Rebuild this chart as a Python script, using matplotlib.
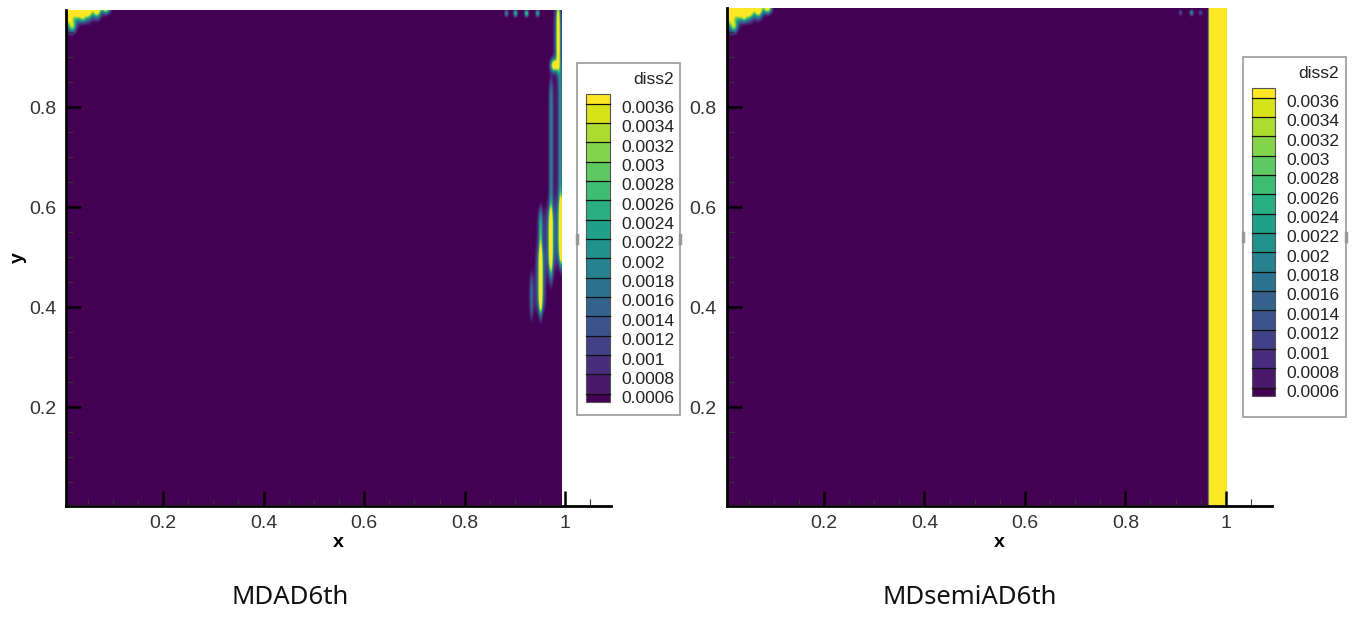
#!/usr/bin/env python3
# -*- coding: utf-8 -*-

import numpy as np
import matplotlib
matplotlib.use("Agg")
from matplotlib import pyplot as plt
from matplotlib.patches import Rectangle
from matplotlib.ticker import FixedLocator, MultipleLocator

plt.rcParams["font.family"] = ["Liberation Sans", "DejaVu Sans"]

# contour levels of diss2 (legend)
levels = [0.0006, 0.0008, 0.001, 0.0012, 0.0014, 0.0016, 0.0018, 0.002,
          0.0022, 0.0024, 0.0026, 0.0028, 0.003, 0.0032, 0.0034, 0.0036]
level_labels = ["0.0006", "0.0008", "0.001", "0.0012", "0.0014", "0.0016",
                "0.0018", "0.002", "0.0022", "0.0024", "0.0026", "0.0028",
                "0.003", "0.0032", "0.0034", "0.0036"]
xticks = [0.2, 0.4, 0.6, 0.8, 1.0]
xtick_labels = ["0.2", "0.4", "0.6", "0.8", "1"]
yticks = [0.2, 0.4, 0.6, 0.8]
ytick_labels = ["0.2", "0.4", "0.6", "0.8"]
titles = ["MDAD6th", "MDsemiAD6th"]
background = 0.0003

# blobs: x, y, sx, sy, amplitude
corner_blobs = [
    (0.012, 0.995, 0.010, 0.030, 0.0060),
    (0.030, 0.998, 0.009, 0.022, 0.0060),
    (0.050, 0.997, 0.009, 0.020, 0.0058),
    (0.068, 0.998, 0.008, 0.018, 0.0055),
    (0.086, 0.999, 0.008, 0.012, 0.0045),
    (0.020, 0.960, 0.007, 0.012, 0.0022),
    (0.040, 0.978, 0.006, 0.010, 0.0020),
]
left_dots = [
    (0.883, 0.986, 0.004, 0.007, 0.0016),
    (0.901, 0.986, 0.004, 0.007, 0.0024),
    (0.923, 0.986, 0.004, 0.007, 0.0026),
    (0.945, 0.986, 0.004, 0.007, 0.0022),
    (0.978, 0.882, 0.007, 0.012, 0.0040),
]
right_dots = [
    (0.908, 0.987, 0.004, 0.006, 0.0010),
    (0.930, 0.987, 0.004, 0.006, 0.0017),
    (0.948, 0.987, 0.004, 0.006, 0.0010),
]
# vertical streaks near x=1 (left panel): x, y_low, y_high, width, amplitude
left_streaks = [
    (0.986, 0.880, 0.997, 0.0032, 0.0040),
    (0.990, 0.500, 0.880, 0.0035, 0.0014),
    (0.992, 0.490, 0.610, 0.0035, 0.0040),
    (0.972, 0.450, 0.850, 0.0035, 0.0012),
    (0.971, 0.480, 0.590, 0.0035, 0.0036),
    (0.951, 0.390, 0.590, 0.0035, 0.0018),
    (0.951, 0.400, 0.510, 0.0030, 0.0038),
    (0.933, 0.380, 0.460, 0.0035, 0.0010),
]
# yellow band on the right edge (right panel): x_low, x_high, amplitude
right_band = (0.965, 1.0, 0.008)


def field(xmin, xmax, ymin, ymax, blobs, streaks, band):
    x = np.linspace(xmin, xmax, 900)
    y = np.linspace(ymin, ymax, 900)
    X, Y = np.meshgrid(x, y)
    Z = np.full_like(X, background)
    for (xc, yc, sx, sy, a) in blobs:
        Z += a * np.exp(-((X - xc) / sx) ** 2 - ((Y - yc) / sy) ** 2)
    for (xc, ylo, yhi, w, a) in streaks:
        win = 0.5 * (np.tanh((Y - ylo) / 0.02) - np.tanh((Y - yhi) / 0.02))
        core = np.exp(-((X - xc) / w) ** 2)
        halo = 0.35 * np.exp(-((X - xc) / (2.8 * w)) ** 2)
        Z += a * (core + halo) * win
    if band is not None:
        xlo, xhi, a = band
        Z += a * 0.5 * (np.tanh((X - xlo) / 0.0018) - np.tanh((X - xhi) / 0.0018))
    return Z


cmap = plt.get_cmap("viridis")
vmin = levels[0] - 0.0001
vmax = levels[-1] + 0.0001

fig = plt.figure(figsize=(13.59, 6.19), dpi=100)
W, H = 1359.0, 619.0

# axes rectangles in pixels: left, top, right, bottom
panels = [
    dict(px=(66, 10, 611, 505.5), xlim=(0.007, 1.091), ylim=(0.003, 0.994),
         dx=0.993, blobs=corner_blobs + left_dots, streaks=left_streaks,
         band=None, legend=(577, 63, 680, 415), cap=290),
    dict(px=(726.5, 8, 1272, 505.5), xlim=(0.006, 1.092), ylim=(0.003, 0.998),
         dx=1.0, blobs=corner_blobs + right_dots, streaks=[],
         band=right_band, legend=(1242.5, 57, 1346, 417), cap=970),
]

for i, p in enumerate(panels):
    l, t, r, b = p["px"]
    ax = fig.add_axes([l / W, 1 - b / H, (r - l) / W, (b - t) / H])
    x0, x1 = p["xlim"]
    y0, y1 = p["ylim"]
    Z = field(x0, p["dx"], y0, y1, p["blobs"], p["streaks"], p["band"])
    ax.imshow(Z, origin="lower", extent=(x0, p["dx"], y0, y1), aspect="auto",
              cmap=cmap, vmin=vmin, vmax=vmax, interpolation="bilinear")
    ax.set_xlim(x0, x1)
    ax.set_ylim(y0, y1)
    ax.spines["top"].set_visible(False)
    ax.spines["right"].set_visible(False)
    ax.spines["left"].set_linewidth(2)
    ax.spines["bottom"].set_linewidth(2)
    ax.spines["left"].set_zorder(5)
    ax.spines["bottom"].set_zorder(5)
    ax.xaxis.set_major_locator(FixedLocator(xticks))
    ax.set_xticklabels(xtick_labels)
    ax.yaxis.set_major_locator(FixedLocator(yticks))
    ax.set_yticklabels(ytick_labels)
    ax.xaxis.set_minor_locator(MultipleLocator(0.05))
    ax.yaxis.set_minor_locator(MultipleLocator(0.05))
    ax.tick_params(which="major", direction="in", length=11, width=1.8,
                   labelsize=14, labelcolor="#333333", pad=7)
    ax.tick_params(which="minor", direction="in", length=5, width=0.8,
                   color="#333333")
    ax.set_xlabel("x", fontsize=14, fontweight="bold", labelpad=1)

    # caption
    fig.text(p["cap"] / W, 1 - 598 / H, titles[i], ha="center", va="center",
             fontsize=18.5, family=["Noto Sans", "DejaVu Sans"], color="#111111")

fig.text(18 / W, 1 - 258 / H, "y", rotation=90, ha="center", va="center",
         fontsize=14, fontweight="bold")

# legends drawn in pixel space
lax = fig.add_axes([0, 0, 1, 1], zorder=10)
lax.set_xlim(0, W)
lax.set_ylim(H, 0)
lax.axis("off")

n = len(levels)
colors = [cmap(k / n) for k in range(n + 1)]
for p in panels:
    bl, bt, br, bb = p["legend"]
    lax.add_patch(Rectangle((bl, bt), br - bl, bb - bt, fill=False,
                            edgecolor="#999999", lw=1.2))
    mid = (bt + bb) / 2
    lax.plot([bl, bl], [mid - 4, mid + 4], color="#999999", lw=2.5)
    lax.plot([br, br], [mid - 4, mid + 4], color="#999999", lw=2.5)
    sx0 = bl + 9
    sw = 23.5
    top_line = bt + 40.5
    step = 19.35
    # top band (above last level)
    lax.add_patch(Rectangle((sx0, top_line - 10), sw, 10, facecolor=colors[n],
                            edgecolor="none"))
    for k in range(n):
        yline = top_line + k * step
        hgt = step if k < n - 1 else 8.5
        lax.add_patch(Rectangle((sx0, yline), sw, hgt,
                                facecolor=colors[n - 1 - k], edgecolor="none"))
        lax.plot([sx0, sx0 + sw], [yline, yline], color="#111111", lw=0.9)
        lax.text(sx0 + 35, yline + 5, level_labels[n - 1 - k], ha="left",
                 va="center", fontsize=12.5, color="#222222")
    bottom = top_line + (n - 1) * step + 8.5
    lax.add_patch(Rectangle((sx0, top_line - 10), sw, bottom - top_line + 10,
                            fill=False, edgecolor="#555555", lw=0.8))
    lax.text(sx0 + 47, bt + 16, "diss2", ha="left", va="center", fontsize=12.5,
             color="#222222")

plt.savefig("out.png", dpi=100)
